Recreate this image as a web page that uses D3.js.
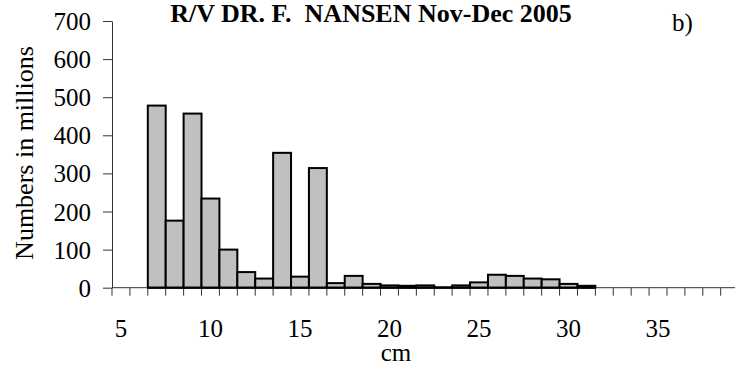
<!DOCTYPE html>
<html><head><meta charset="utf-8">
<script src="https://cdn.jsdelivr.net/npm/d3@7"></script>
<style>body{margin:0;background:#fff}svg{display:block}</style>
</head><body><svg id="c" width="735" height="367"></svg>
<script>
const categories = d3.range(5, 40); // cm classes 5..39
const lengths = [7,8,9,10,11,12,13,14,15,16,17,18,19,20,21,22,23,24,25,26,27,28,29,30,31];
const values  = [478,176,457,234,100,41,24,354,29,314,12,31,10,6,5,6,1,6,14,34,31,24,22,10,5];
const yTicks = [0,100,200,300,400,500,600,700];
const xLabels = [5,10,15,20,25,30,35];

const FONT = "'Liberation Serif', 'Times New Roman', Times, serif";
const svg = d3.select("#c");
const x = d3.scaleBand().domain(categories).range([112, 738.6]).padding(0);
const y = d3.scaleLinear().domain([0,700]).range([287.7, 21]);

// y axis
const ya = svg.append("g").attr("transform","translate(112,0)")
  .attr("font-family", FONT)
  .call(d3.axisLeft(y).tickValues(yTicks).tickSize(9).tickPadding(12).tickSizeOuter(0));
ya.attr("font-family", FONT);
ya.select(".domain").attr("stroke","#333");
ya.selectAll(".tick line").attr("stroke","#333");
ya.selectAll(".tick text").style("font-family", FONT).style("font-size","25px").attr("fill","#000").attr("dy","0.34em");

// bars
svg.append("g").selectAll("rect").data(lengths.map((l,i)=>({l, v: values[i]})))
  .enter().append("rect")
  .attr("x", d=>x(d.l)).attr("width", x.bandwidth())
  .attr("y", d=>y(d.v)).attr("height", d=>y(0)-y(d.v))
  .attr("fill","#c0c0c0").attr("stroke","#000").attr("stroke-width",2);

// x axis line and boundary ticks
const bounds = categories.map(c=>x(c)).concat([x(categories[categories.length-1])+x.bandwidth()]);
svg.append("line").attr("x1",112).attr("x2",738.6).attr("y1",y(0)).attr("y2",y(0))
  .attr("stroke","#333").attr("stroke-width",1);
svg.append("g").selectAll("line").data(bounds).enter().append("line")
  .attr("x1",d=>d).attr("x2",d=>d).attr("y1",y(0)).attr("y2",y(0)+8)
  .attr("stroke","#333").attr("stroke-width",1);
svg.append("line").attr("x1",x(lengths[0])).attr("x2",x(lengths[lengths.length-1])+x.bandwidth())
  .attr("y1",y(0)).attr("y2",y(0)).attr("stroke","#000").attr("stroke-width",2);

const T = (sel) => sel.style("font-family", FONT).attr("fill","#000");

svg.append("g").selectAll("text").data(xLabels).enter().append("text")
  .attr("x", d=>x(d)+x.bandwidth()/2).attr("y",336.5)
  .attr("text-anchor","middle").style("font-size","25px").call(T).text(d=>d);

svg.append("text").attr("x",396).attr("y",361).attr("text-anchor","middle")
  .style("font-size","25px").call(T).text("cm");

svg.append("text").attr("transform","translate(33,153) rotate(-90)")
  .attr("text-anchor","middle").style("font-size","26px").call(T).text("Numbers in millions");

svg.append("text").attr("x",371).attr("y",22).attr("text-anchor","middle")
  .style("font-size","26px").style("font-weight","bold").call(T).text("R/V DR. F.\u00a0 NANSEN Nov-Dec 2005");

svg.append("text").attr("x",672).attr("y",31).style("font-size","25px").call(T).text("b)");
</script></body></html>
